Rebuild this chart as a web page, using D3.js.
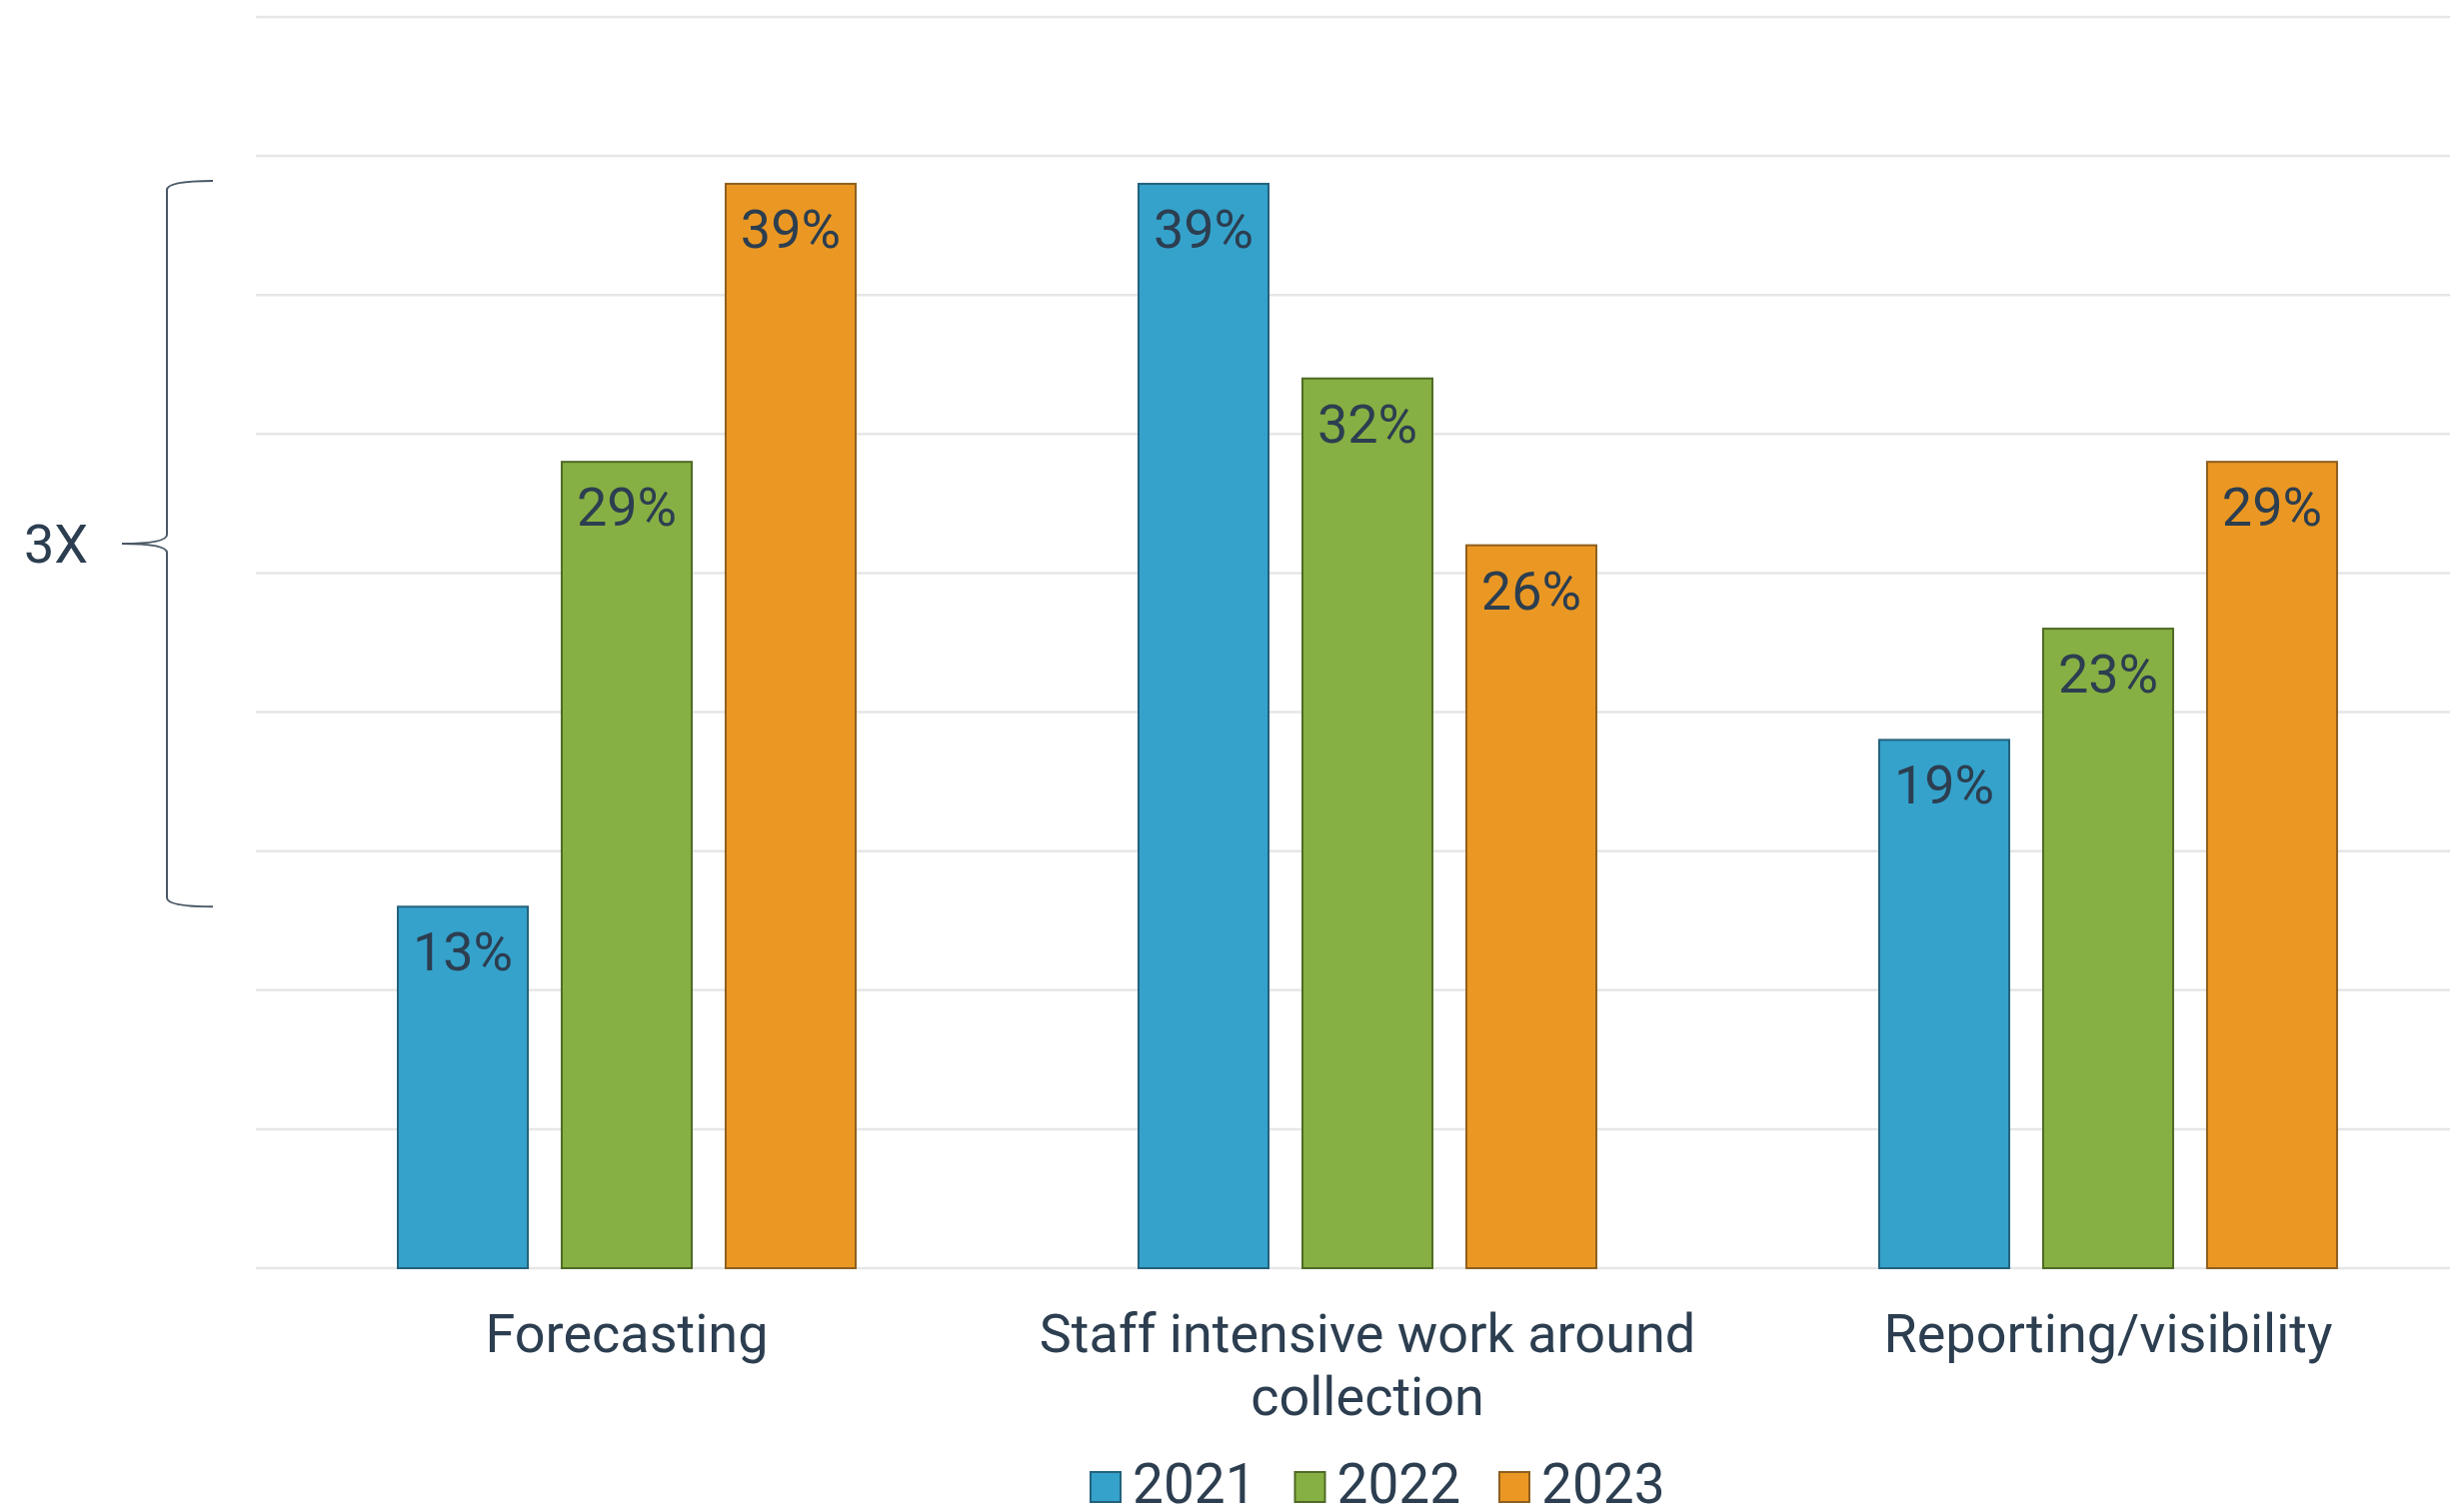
<!DOCTYPE html>
<html>
<head>
<meta charset="utf-8">
<script src="https://cdn.jsdelivr.net/npm/d3@7"></script>
<style>
  html, body { margin: 0; padding: 0; background: #ffffff; }
  svg { display: block; font-family: Roboto, "Noto Sans", sans-serif; }
</style>
</head>
<body>
<svg id="chart" width="2451" height="1513"></svg>
<script>
// Challenge categories (two-line label for the middle one)
const categories = ["Forecasting", "Staff intensive work around collection", "Reporting/visibility"];
const categoryLines = [["Forecasting"], ["Staff intensive work around", "collection"], ["Reporting/visibility"]];
const years = ["2021", "2022", "2023"];

// Share of respondents per year, in percent
const values2021 = [13, 39, 19];
const values2022 = [29, 32, 23];
const values2023 = [39, 26, 29];
const yTicks = [0, 5, 10, 15, 20, 25, 30, 35, 40, 45];

const fills = { "2021": "#35a2cb", "2022": "#86b043", "2023": "#ea9823" };
const strokes = { "2021": "#23627d", "2022": "#4f6b25", "2023": "#8f5f1f" };
const textColor = "#2c3e50";
const fontSize = 54;

const series = { "2021": values2021, "2022": values2022, "2023": values2023 };
const rows = categories.map((c, i) => ({
  category: c,
  bars: years.map(y => ({ year: y, value: series[y][i] }))
}));

const svg = d3.select("#chart");
const W = 2451;

const y = d3.scaleLinear().domain([0, 45]).range([1269, 17]);
const x0 = d3.scaleBand().domain(categories).range([256.5, 2479.5]).paddingInner(0).paddingOuter(0);
const groupWidth = 458;
const x1 = d3.scaleBand().domain(years).range([0, groupWidth]).paddingInner(0.207).paddingOuter(0);

// Horizontal gridlines
svg.append("g")
  .selectAll("line")
  .data(yTicks)
  .join("line")
  .attr("x1", 256)
  .attr("x2", W)
  .attr("y1", d => y(d))
  .attr("y2", d => y(d))
  .attr("stroke", "#e6e6e6")
  .attr("stroke-width", 2.5);

// Bars and value labels
const groups = svg.append("g")
  .selectAll("g")
  .data(rows)
  .join("g")
  .attr("transform", d => `translate(${x0(d.category) + x0.bandwidth() / 2 - groupWidth / 2},0)`);

groups.selectAll("rect")
  .data(d => d.bars)
  .join("rect")
  .attr("x", d => x1(d.year))
  .attr("y", d => y(d.value))
  .attr("width", x1.bandwidth())
  .attr("height", d => y(0) - y(d.value))
  .attr("fill", d => fills[d.year])
  .attr("stroke", d => strokes[d.year])
  .attr("stroke-width", 2);

groups.selectAll("text.value")
  .data(d => d.bars)
  .join("text")
  .attr("class", "value")
  .attr("x", d => x1(d.year) + x1.bandwidth() / 2)
  .attr("y", d => y(d.value) + 64)
  .attr("text-anchor", "middle")
  .attr("font-size", fontSize)
  .attr("fill", textColor)
  .text(d => d.value + "%");

// Category labels under the baseline
const catLabels = svg.append("g")
  .selectAll("text")
  .data(categories.map((c, i) => ({ category: c, lines: categoryLines[i] })))
  .join("text")
  .attr("x", d => x0(d.category) + x0.bandwidth() / 2)
  .attr("y", 1353)
  .attr("text-anchor", "middle")
  .attr("font-size", fontSize)
  .attr("fill", textColor);

catLabels.selectAll("tspan")
  .data(d => d.lines.map(l => ({ line: l, x: x0(d.category) + x0.bandwidth() / 2 })))
  .join("tspan")
  .attr("x", d => d.x)
  .attr("dy", (d, i) => i === 0 ? 0 : 63)
  .text(d => d.line);

// Curly brace spanning the Forecasting 2021 -> 2023 change
const yTop = y(values2023[0]) - 3;
const yBot = y(values2021[0]);
const yMid = (yTop + yBot) / 2;
const bx = 167, tipX = 213, midX = 122, r = 9;
const brace = d3.path();
brace.moveTo(tipX, yTop);
brace.quadraticCurveTo(bx, yTop, bx, yTop + r);
brace.lineTo(bx, yMid - r);
brace.quadraticCurveTo(bx, yMid, midX, yMid);
brace.quadraticCurveTo(bx, yMid, bx, yMid + r);
brace.lineTo(bx, yBot - r);
brace.quadraticCurveTo(bx, yBot, tipX, yBot);
svg.append("path")
  .attr("d", brace.toString())
  .attr("fill", "none")
  .attr("stroke", "#4a5866")
  .attr("stroke-width", 2);

svg.append("text")
  .attr("x", 24)
  .attr("y", yMid + 19)
  .attr("font-size", fontSize)
  .attr("fill", textColor)
  .text("3X");

// Legend
const legendX = [1091, 1295.5, 1500];
const legend = svg.append("g")
  .selectAll("g")
  .data(years)
  .join("g")
  .attr("transform", (d, i) => `translate(${legendX[i]},1473)`);
legend.append("rect")
  .attr("width", 30)
  .attr("height", 30)
  .attr("fill", d => fills[d])
  .attr("stroke", d => strokes[d])
  .attr("stroke-width", 2);
legend.append("text")
  .attr("x", 42)
  .attr("y", 31)
  .attr("font-size", 55)
  .attr("fill", textColor)
  .text(d => d);
</script>
</body>
</html>
